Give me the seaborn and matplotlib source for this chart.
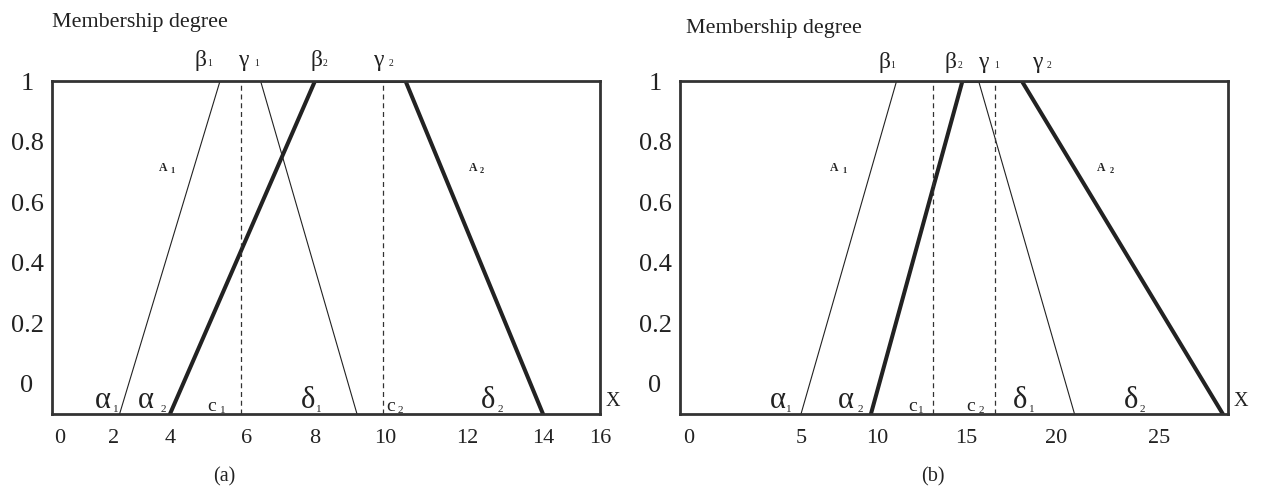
import numpy as np
import pandas as pd
import matplotlib
matplotlib.use("Agg")
import matplotlib.pyplot as plt
import seaborn as sns

# ---------------- data ----------------
# trapezoid corner points: alpha, beta, gamma, delta
a_A1 = [2.2, 5.3, 6.4, 9.2]
a_A2 = [4.0, 8.0, 10.5, 14.0]
a_centers = [5.85, 9.95]          # c1, c2
a_ticks = [0, 2, 4, 6, 8, 10, 12, 14, 16]

b_A1 = [5.0, 11.1, 15.7, 20.9]
b_A2 = [9.6, 14.8, 18.1, 28.1]
b_centers = [13.15, 16.6]         # c1, c2
b_ticks = [0, 5, 10, 15, 20, 25]

y_ticks = [0, 0.2, 0.4, 0.6, 0.8, 1]
y_tick_labels = ["0", "0.2", "0.4", "0.6", "0.8", "1"]
Y_FLOOR = -0.1                    # frame bottom where the legs end
membership = [Y_FLOOR, 1, 1, Y_FLOOR]

# hand-drawn (irregular) x-axis calibration: value -> fraction of axis width
a_scale_vals = [-0.3, 0, 2, 4, 6, 8, 10, 12, 14, 16]
a_scale_frac = [0, 0.0146, 0.1131, 0.2153, 0.3558, 0.4799, 0.6077, 0.7573, 0.8960, 1.0]
b_scale_vals = [-0.4, 0, 5, 10, 15, 20, 25, 28.35]
b_scale_frac = [0, 0.0164, 0.2208, 0.3595, 0.5219, 0.6861, 0.8741, 1.0]

# ---------------- style ----------------
sns.set_theme(style="white")
plt.rcParams["font.family"] = ["Liberation Serif", "DejaVu Serif"]
INK = "#222222"
FRAME = "#333333"

W, H = 1263, 490
fig = plt.figure(figsize=(W / 100, H / 100), dpi=100)
fig.patch.set_facecolor("white")


def px_rect(x0, x1, y0, y1):
    return [x0 / W, 1 - y1 / H, (x1 - x0) / W, (y1 - y0) / H]


def make_scale(vals, fracs):
    v = np.asarray(vals, float)
    f = np.asarray(fracs, float)

    def _map(x, a, b):
        x = np.asarray(x, float)
        y = np.interp(x, a, b)
        lo = x < a[0]
        hi = x > a[-1]
        y = np.where(lo, b[0] + (x - a[0]) * (b[1] - b[0]) / (a[1] - a[0]), y)
        y = np.where(hi, b[-1] + (x - a[-1]) * (b[-1] - b[-2]) / (a[-1] - a[-2]), y)
        return y

    return (lambda x: _map(x, v, f)), (lambda y: _map(y, f, v))


def draw_panel(ax, A1, A2, centers, ticks, svals, sfrac):
    df = pd.DataFrame({
        "x": A1 + A2,
        "mu": membership + membership,
        "set": ["A1"] * 4 + ["A2"] * 4,
    })
    sns.lineplot(data=df, x="x", y="mu", hue="set", size="set",
                 sizes={"A1": 0.8, "A2": 2.9},
                 palette={"A1": INK, "A2": INK},
                 sort=False, estimator=None, legend=False, ax=ax)
    for c in centers:
        ax.axvline(c, color=FRAME, lw=0.9, ls=(0, (4, 3)))
    fwd, inv = make_scale(svals, sfrac)
    ax.set_xscale("function", functions=(fwd, inv))
    ax.set_xlim(svals[0], svals[-1])
    ax.set_ylim(Y_FLOOR, 1)
    ax.set_xticks(ticks)
    ax.set_xticklabels([str(t) for t in ticks])
    ax.xaxis.set_minor_locator(matplotlib.ticker.NullLocator())
    ax.set_yticks(y_ticks)
    ax.set_yticklabels(y_tick_labels)
    ax.tick_params(axis="x", which="both", length=0, pad=11, labelsize=16, colors=INK)
    ax.tick_params(axis="y", which="both", length=0, pad=18, labelsize=19, colors=INK)
    for lab in ax.get_yticklabels():
        lab.set_horizontalalignment("center")
    ax.set_xlabel("")
    ax.set_ylabel("")
    for s in ax.spines.values():
        s.set_visible(True)
        s.set_linewidth(2.0)
        s.set_color(FRAME)
    ax.set_facecolor("white")


ax_a = fig.add_axes(px_rect(52, 600, 81, 414))
ax_b = fig.add_axes(px_rect(680, 1228, 81, 414))
draw_panel(ax_a, a_A1, a_A2, a_centers, a_ticks, a_scale_vals, a_scale_frac)
draw_panel(ax_b, b_A1, b_A2, b_centers, b_ticks, b_scale_vals, b_scale_frac)


def put(x, y, s, size, ha="center", va="baseline", weight="normal"):
    fig.text(x / W, 1 - y / H, s, fontsize=size, ha=ha, va=va,
             weight=weight, color=INK)


def sublabel(xm, xs, yb, main, sub, size, subsize, ysb=None, weight="normal"):
    put(xm, yb, main, size, weight=weight)
    put(xs, yb if ysb is None else ysb, sub, subsize, weight=weight)


# axis titles
put(52, 27, "Membership degree", 15.8, ha="left")
put(686, 33, "Membership degree", 15.8, ha="left")
put(224, 477, "(a)", 14.5, va="center")
put(933, 477, "(b)", 14.5, va="center")
put(613, 406, "X", 14.5)
put(1241, 406, "X", 14.5)

# top labels
for xm, xs, m, s in [(200, 210, "β", "1"), (243, 257, "γ", "1"),
                     (316, 325, "β", "2"), (378, 391, "γ", "2")]:
    sublabel(xm, xs, 66, m, s, 17, 7)
for xm, xs, m, s in [(884, 893, "β", "1"), (950, 960, "β", "2"),
                     (983, 997, "γ", "1"), (1037, 1049, "γ", "2")]:
    sublabel(xm, xs, 68, m, s, 17, 7)

# bottom labels
for xm, xs, m, s in [(103, 116, "α", "1"), (146, 163, "α", "2"),
                     (308, 319, "δ", "1"), (488, 500, "δ", "2"),
                     (778, 789, "α", "1"), (846, 860, "α", "2"),
                     (1020, 1032, "δ", "1"), (1131, 1142, "δ", "2")]:
    sublabel(xm, xs, 408, m, s, 22, 8, ysb=412)
for xm, xs, s in [(212, 223, "1"), (391, 400, "2"),
                  (913, 921, "1"), (971, 981, "2")]:
    sublabel(xm, xs, 411, "c", s, 14, 8, ysb=413)

# set names
for xm, xs in [(163, 172), (834, 844)]:
    sublabel(xm, xs, 171, "A", "1", 8.5, 6, ysb=173, weight="bold")
for xm, xs in [(473, 482), (1101, 1112)]:
    sublabel(xm, xs, 171, "A", "2", 8.5, 6, ysb=173, weight="bold")

fig.savefig("out.png", dpi=100, facecolor="white")
